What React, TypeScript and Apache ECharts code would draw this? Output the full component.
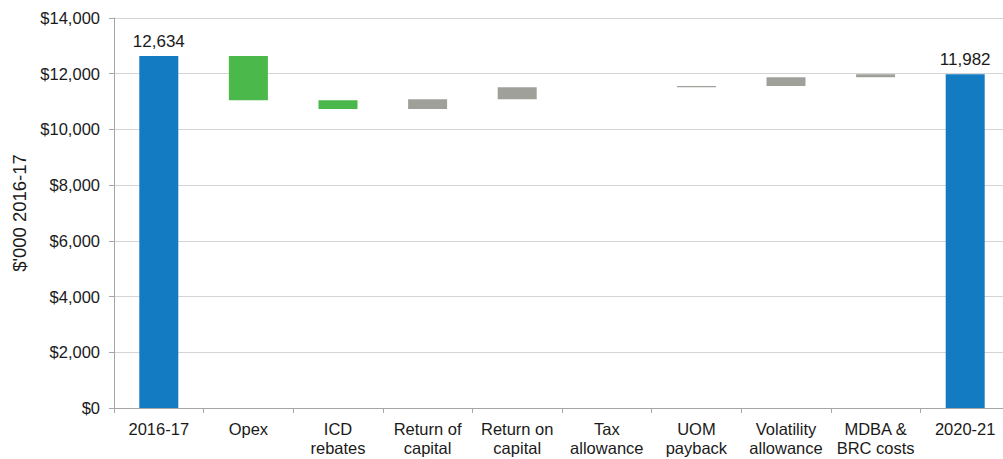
import React, { useEffect, useRef } from "react";
import * as echarts from "echarts";

const categories = [
  "2016-17",
  "Opex",
  "ICD\nrebates",
  "Return of\ncapital",
  "Return on\ncapital",
  "Tax\nallowance",
  "UOM\npayback",
  "Volatility\nallowance",
  "MDBA &\nBRC costs",
  "2020-21",
];
// first and last are totals; others are changes
const startTotal = 12634;
const changes = [-1585, -312, 348, 425, 0, 50, 310, 112];
const endTotal = 11982;
const changeColors = ["#4bb84b", "#4bb84b", "#a0a09b", "#a0a09b", "#a0a09b", "#a0a09b", "#a0a09b", "#a0a09b"];
const totalColor = "#137bc1";
const yTicks = { min: 0, max: 14000, interval: 2000 };

export default function App() {
  const ref = useRef<HTMLDivElement>(null);
  useEffect(() => {
    if (!ref.current) return;
    const chart = echarts.init(ref.current, null, { renderer: "svg" });
    const base: any[] = [];
    const vis: any[] = [];
    base.push(0);
    vis.push({ value: startTotal, itemStyle: { color: totalColor }, label: { show: true } });
    let run = startTotal;
    changes.forEach((c, i) => {
      const next = run + c;
      base.push(Math.min(run, next));
      vis.push({ value: Math.abs(c), itemStyle: { color: changeColors[i] } });
      run = next;
    });
    base.push(0);
    vis.push({ value: endTotal, itemStyle: { color: totalColor }, label: { show: true } });

    chart.setOption({
      animation: false,
      textStyle: { fontFamily: "Liberation Sans, Arial, sans-serif" },
      grid: { left: 114, right: 0, top: 18, bottom: 51, containLabel: false },
      xAxis: {
        type: "category",
        data: categories,
        axisLine: { lineStyle: { color: "#a6a6a6", width: 1 } },
        axisTick: { show: true, length: 5, lineStyle: { color: "#a6a6a6" } },
        axisLabel: { color: "#1a1a1a", fontSize: 16.5, lineHeight: 19, margin: 11, interval: 0 },
      },
      yAxis: {
        type: "value",
        min: yTicks.min,
        max: yTicks.max,
        interval: yTicks.interval,
        name: "$'000 2016-17",
        nameLocation: "middle",
        nameGap: 84,
        nameTextStyle: { color: "#1a1a1a", fontSize: 18.5 },
        axisLine: { show: true, lineStyle: { color: "#a6a6a6", width: 1 } },
        axisTick: { show: true, length: 5, lineStyle: { color: "#a6a6a6" } },
        axisLabel: {
          color: "#1a1a1a",
          fontSize: 16.5,
          margin: 14,
          formatter: (v: number) => "$" + v.toLocaleString("en-US"),
        },
        splitLine: { lineStyle: { color: "#d4d4d4", width: 1 } },
      },
      series: [
        {
          type: "bar",
          stack: "w",
          data: base,
          itemStyle: { color: "transparent" },
          barWidth: 39,
          silent: true,
        },
        {
          type: "bar",
          stack: "w",
          data: vis,
          barWidth: 39,
          label: {
            show: false,
            position: "top",
            distance: 6,
            color: "#1a1a1a",
            fontSize: 17,
            formatter: (p: any) => Number(p.value).toLocaleString("en-US"),
          },
        },
      ],
    });
    return () => chart.dispose();
  }, []);
  return (
    <div
      ref={ref}
      style={{ position: "fixed", left: 0, top: 0, width: 1010, height: 459, background: "#fff" }}
    />
  );
}
